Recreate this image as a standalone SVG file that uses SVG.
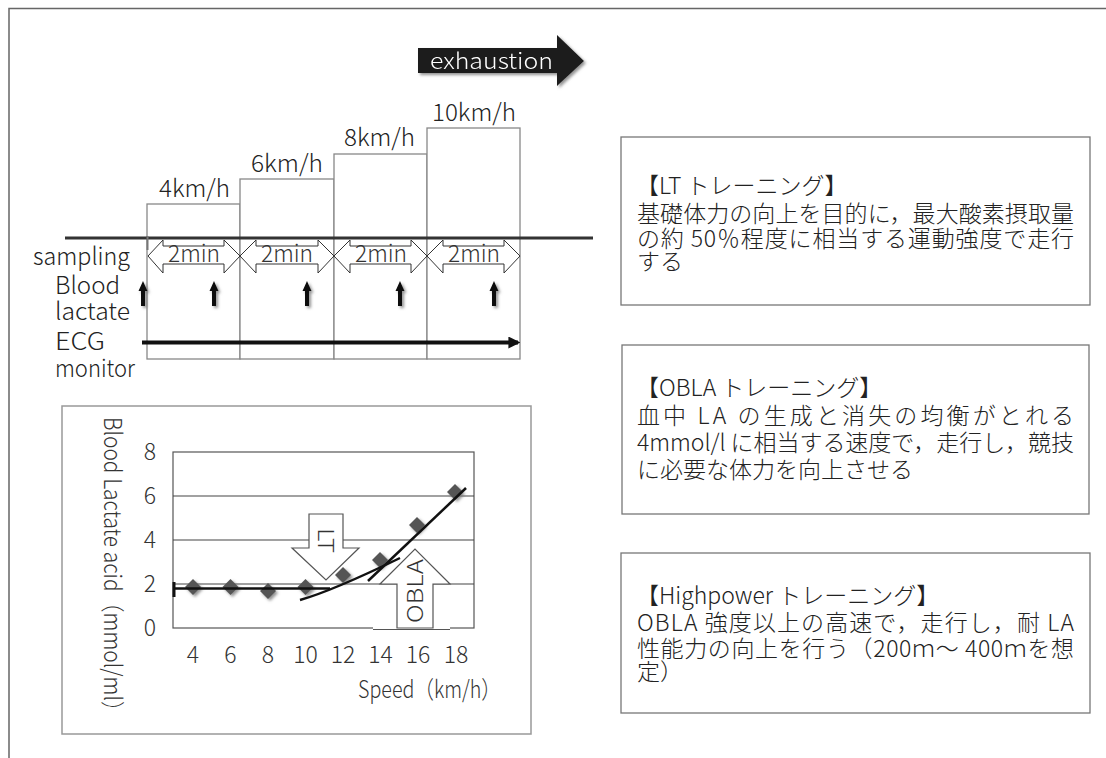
<svg xmlns="http://www.w3.org/2000/svg" width="1106" height="758" viewBox="0 0 1106 758">
<defs>
<filter id="sh" x="-30%" y="-30%" width="160%" height="160%"><feDropShadow dx="2" dy="2" stdDeviation="1.5" flood-color="#777" flood-opacity="0.8"/></filter>
<marker id="ah" viewBox="0 0 10 10" refX="8" refY="5" markerWidth="3" markerHeight="3" orient="auto"><path d="M0,0 L10,5 L0,10 Z" fill="#111"/></marker>
<style>
text{font-family:'Noto Sans CJK JP','Noto Sans',sans-serif;font-weight:300;fill:#222}
.lbl{font-size:24px}
.box{fill:#fff;stroke:#888;stroke-width:1.3}
.tbox{fill:#fff;stroke:#777;stroke-width:1.3}
.jp{font-size:23px}
.dbl{fill:#fff;stroke:#333;stroke-width:1}
.up{fill:#111}
.grid{stroke:#444;stroke-width:1.2}
.dia{fill:#555}
.trend{stroke:#111;stroke-width:2.5;fill:none}
.blk{fill:#fff;stroke:#555;stroke-width:1.2}
.tick{font-size:23px;fill:#333}
</style>
</defs>
<rect width="1106" height="758" fill="#fff"/>
<g id="frame"><path d="M9,758 V8.5 H1106" fill="none" stroke="#666" stroke-width="1.5"/></g>

<g id="exhaustion" filter="url(#sh)">
<path d="M418,48 H557 V35 L584,61 L557,86 V73 H418 Z" fill="#1a1a1a"/>
<text x="430" y="69" font-size="22" textLength="123" lengthAdjust="spacingAndGlyphs" style="fill:#fff">exhaustion</text>
</g>

<g id="stages">
<rect class="box" x="147" y="204" width="93" height="155"/>
<rect class="box" x="240" y="179" width="94" height="180"/>
<rect class="box" x="334" y="154" width="93" height="205"/>
<rect class="box" x="427" y="128" width="93" height="231"/>
<text class="lbl" x="159" y="197" textLength="71" lengthAdjust="spacingAndGlyphs">4km/h</text>
<text class="lbl" x="251" y="172" textLength="72" lengthAdjust="spacingAndGlyphs">6km/h</text>
<text class="lbl" x="344" y="146" textLength="71" lengthAdjust="spacingAndGlyphs">8km/h</text>
<text class="lbl" x="432" y="121" textLength="84" lengthAdjust="spacingAndGlyphs">10km/h</text>
</g>

<g id="labels">
<text class="lbl" x="33" y="265" textLength="97" lengthAdjust="spacingAndGlyphs">sampling</text>
<text class="lbl" x="55" y="294" textLength="65" lengthAdjust="spacingAndGlyphs">Blood</text>
<text class="lbl" x="55" y="320" textLength="75" lengthAdjust="spacingAndGlyphs">lactate</text>
<text class="lbl" x="55" y="350" textLength="50" lengthAdjust="spacingAndGlyphs">ECG</text>
<text class="lbl" x="55" y="377" textLength="80" lengthAdjust="spacingAndGlyphs">monitor</text>
</g>

<g id="connectors">
<line x1="65" y1="238" x2="593" y2="238" stroke="#333" stroke-width="3"/>
<line x1="147.5" y1="236" x2="147.5" y2="250" stroke="#777" stroke-width="2"/>
<line x1="142" y1="342.5" x2="518" y2="342.5" stroke="#111" stroke-width="4" marker-end="url(#ah)"/>
</g>

<g id="durations">
<path class="dbl" d="M148,256 L163,240 V246 H224 V240 L240,256 L224,273 V264 H163 V273 Z"/>
<path class="dbl" d="M240,256 L256,240 V246 H318 V240 L334,256 L318,273 V264 H256 V273 Z"/>
<path class="dbl" d="M334,256 L350,240 V246 H411 V240 L427,256 L411,273 V264 H350 V273 Z"/>
<path class="dbl" d="M427,256 L443,240 V246 H504 V240 L520,256 L504,273 V264 H443 V273 Z"/>
<text x="168" y="262" font-size="24" textLength="52" lengthAdjust="spacingAndGlyphs" style="fill:#333">2min</text>
<text x="261" y="262" font-size="24" textLength="52" lengthAdjust="spacingAndGlyphs" style="fill:#333">2min</text>
<text x="355" y="262" font-size="24" textLength="52" lengthAdjust="spacingAndGlyphs" style="fill:#333">2min</text>
<text x="448" y="262" font-size="24" textLength="52" lengthAdjust="spacingAndGlyphs" style="fill:#333">2min</text>
</g>

<g id="sampling-arrows" filter="url(#sh)">
<path class="up" d="M143,281 L147.5,291 H145 V306 H141 V291 H138.5 Z"/>
<path class="up" d="M214,281 L218.5,291 H216 V306 H212 V291 H209.5 Z"/>
<path class="up" d="M307,281 L311.5,291 H309 V306 H305 V291 H302.5 Z"/>
<path class="up" d="M400,281 L404.5,291 H402 V306 H398 V291 H395.5 Z"/>
<path class="up" d="M494,281 L498.5,291 H496 V306 H492 V291 H489.5 Z"/>
</g>

<g id="chart">
<rect x="62" y="406" width="469" height="328" fill="#fff" stroke="#999" stroke-width="1.5"/>
<rect x="173" y="452" width="301" height="176" fill="#fff" stroke="#555" stroke-width="1.2"/>
<line class="grid" x1="173" y1="496" x2="474" y2="496"/>
<line class="grid" x1="173" y1="540" x2="474" y2="540"/>
<line class="grid" x1="173" y1="584" x2="474" y2="584"/>
<g filter="url(#sh)">
<path class="dia" d="M193,579 l8,8 l-8,8 l-8,-8 Z"/>
<path class="dia" d="M230.5,579 l8,8 l-8,8 l-8,-8 Z"/>
<path class="dia" d="M268,583 l8,8 l-8,8 l-8,-8 Z"/>
<path class="dia" d="M305.5,579 l8,8 l-8,8 l-8,-8 Z"/>
<path class="dia" d="M343,567 l8,8 l-8,8 l-8,-8 Z"/>
<path class="dia" d="M380,552 l8,8 l-8,8 l-8,-8 Z"/>
<path class="dia" d="M417,517 l8,8 l-8,8 l-8,-8 Z"/>
<path class="dia" d="M455,484 l8,8 l-8,8 l-8,-8 Z"/>
</g>
<path class="trend" d="M173,588.5 H330" stroke-width="3.5"/>
<line x1="174" y1="582" x2="174" y2="597" stroke="#111" stroke-width="3"/>
<path class="trend" d="M300,600 Q332,591 400,558"/>
<path class="trend" d="M368,581 L466,488"/>
<path class="blk" d="M309,514 H343 V548 H359 L326,580 L292,548 H309 Z"/>
<text transform="translate(318,528) rotate(90)" font-size="22" textLength="25" lengthAdjust="spacingAndGlyphs" style="fill:#333">LT</text>
<rect x="373" y="586" width="77" height="43" fill="#fff"/>
<line x1="373" y1="629.5" x2="450" y2="629.5" stroke="#555" stroke-width="1.2"/>
<path class="blk" d="M397,628 V584 H380 L415,549 L450,584 H433 V628 Z"/>
<text transform="translate(423,623) rotate(-90)" font-size="22" textLength="64" lengthAdjust="spacingAndGlyphs" style="fill:#333">OBLA</text>
<text class="tick" x="150" y="460" text-anchor="middle">8</text>
<text class="tick" x="150" y="504" text-anchor="middle">6</text>
<text class="tick" x="150" y="548" text-anchor="middle">4</text>
<text class="tick" x="150" y="592" text-anchor="middle">2</text>
<text class="tick" x="150" y="636" text-anchor="middle">0</text>
<text class="tick" x="193" y="663" text-anchor="middle">4</text>
<text class="tick" x="230.5" y="663" text-anchor="middle">6</text>
<text class="tick" x="268" y="663" text-anchor="middle">8</text>
<text class="tick" x="305.5" y="663" text-anchor="middle">10</text>
<text class="tick" x="343" y="663" text-anchor="middle">12</text>
<text class="tick" x="380.5" y="663" text-anchor="middle">14</text>
<text class="tick" x="418" y="663" text-anchor="middle">16</text>
<text class="tick" x="456" y="663" text-anchor="middle">18</text>
<text class="lbl" x="358" y="698" textLength="143" lengthAdjust="spacingAndGlyphs" style="fill:#333">Speed（km/h）</text>
<text class="lbl" transform="translate(104,417) rotate(90)" textLength="305" lengthAdjust="spacingAndGlyphs" style="fill:#333">Blood Lactate acid（mmol/ml）</text>
</g>

<g id="box-lt">
<rect class="tbox" x="621" y="137" width="469" height="168"/>
<text class="jp" x="636" y="194">【LT トレーニング】</text>
<text class="jp" x="637" y="222" textLength="437">基礎体力の向上を目的に，最大酸素摂取量</text>
<text class="jp" x="637" y="247" textLength="437">の約 50％程度に相当する運動強度で走行</text>
<text class="jp" x="637" y="270">する</text>
</g>

<g id="box-obla">
<rect class="tbox" x="622" y="345" width="467" height="169"/>
<text class="jp" x="636" y="396">【OBLA トレーニング】</text>
<text class="jp" x="637" y="424" textLength="437">血中 LA の生成と消失の均衡がとれる</text>
<text class="jp" x="637" y="451" textLength="437">4mmol/l に相当する速度で，走行し，競技</text>
<text class="jp" x="637" y="478">に必要な体力を向上させる</text>
</g>

<g id="box-highpower">
<rect class="tbox" x="621" y="553" width="469" height="160"/>
<text class="jp" x="636" y="604">【Highpower トレーニング】</text>
<text class="jp" x="637" y="631" textLength="437">OBLA 強度以上の高速で，走行し，耐 LA</text>
<text class="jp" x="637" y="657" textLength="437">性能力の向上を行う（200ｍ～ 400ｍを想</text>
<text class="jp" x="637" y="680">定）</text>
</g>
</svg>
